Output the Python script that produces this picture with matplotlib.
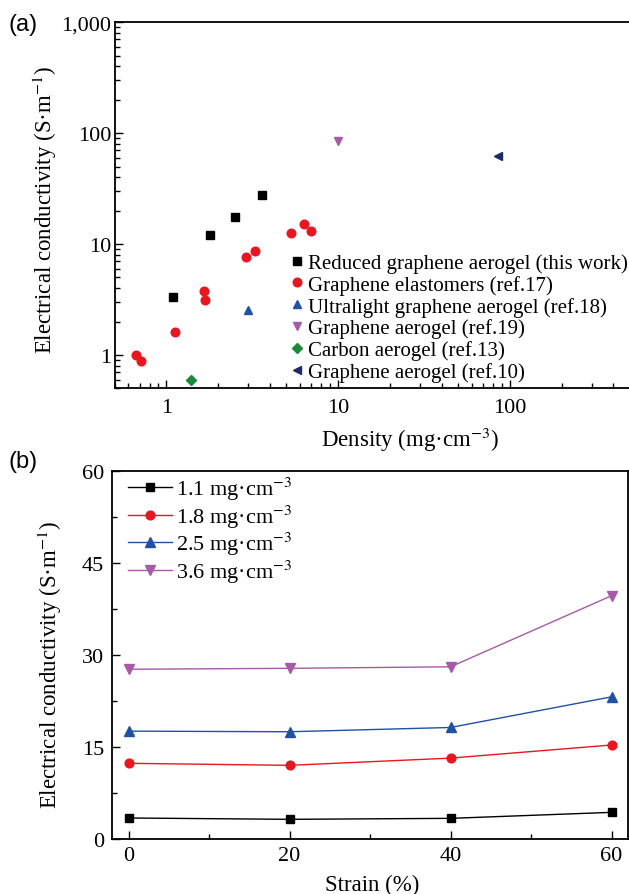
import matplotlib
matplotlib.use("Agg")
import matplotlib.pyplot as plt
from matplotlib.ticker import LogLocator, FuncFormatter, MultipleLocator, NullFormatter

plt.rcParams['font.family'] = ['Liberation Serif', 'DejaVu Serif']
plt.rcParams['mathtext.fontset'] = 'stix'

# ---------------- Panel (a) data ----------------
rga_density = [1.1, 1.8, 2.5, 3.6]
rga_cond = [3.35, 12.1, 17.4, 27.6]

elast_density = [0.67, 0.71, 1.12, 1.67, 1.69, 2.90, 3.28, 5.3, 6.35, 6.95]
elast_cond = [1.0, 0.88, 1.61, 3.8, 3.16, 7.7, 8.6, 12.5, 15.1, 13.2]

ultra_density = [3.0]
ultra_cond = [2.55]

ga19_density = [10.0]
ga19_cond = [85.0]

carbon_density = [1.4]
carbon_cond = [0.6]

ga10_density = [85.0]
ga10_cond = [62.5]

labels_a = ["Reduced graphene aerogel (this work)",
            "Graphene elastomers (ref.17)",
            "Ultralight graphene aerogel (ref.18)",
            "Graphene aerogel (ref.19)",
            "Carbon aerogel (ref.13)",
            "Graphene aerogel (ref.10)"]

# ---------------- Panel (b) data ----------------
strain = [0, 20, 40, 60]
cond_11 = [3.43, 3.21, 3.37, 4.35]
cond_18 = [12.35, 12.02, 13.2, 15.34]
cond_25 = [17.6, 17.5, 18.2, 23.2]
cond_36 = [27.7, 27.85, 28.1, 39.7]
labels_b = ["1.1 mg·cm$^{-3}$", "1.8 mg·cm$^{-3}$", "2.5 mg·cm$^{-3}$", "3.6 mg·cm$^{-3}$"]

BLACK = '#000000'
RED = '#e8161e'
BLUE = '#2151a5'
PURPLE = '#a65aa8'
GREEN = '#1a8a3a'
NAVY = '#1c2a66'

W, H = 629, 895
fig = plt.figure(figsize=(W / 100, H / 100), dpi=100)

def frac(l, t, r, b):
    return [l / W, 1 - b / H, (r - l) / W, (b - t) / H]

LBL = 16.5
TCK = 16

# ---------------- Panel (a) ----------------
ax1 = fig.add_axes(frac(114.5, 23.3, 630.0, 389.3))
ax1.set_xscale('log')
ax1.set_yscale('log')
ax1.set_xlim(0.5, 500)
ax1.set_ylim(0.5, 1000)

ms = 6.2
h1, = ax1.plot(rga_density, rga_cond, ls='none', marker='s', ms=5.8, color=BLACK, mec=BLACK)
h2, = ax1.plot(elast_density, elast_cond, ls='none', marker='o', ms=ms, color=RED, mec=RED)
h3, = ax1.plot(ultra_density, ultra_cond, ls='none', marker='^', ms=ms, color=BLUE, mec=BLUE)
h4, = ax1.plot(ga19_density, ga19_cond, ls='none', marker='v', ms=ms, color=PURPLE, mec=PURPLE)
h5, = ax1.plot(carbon_density, carbon_cond, ls='none', marker='D', ms=5.0, color=GREEN, mec=GREEN)
h6, = ax1.plot(ga10_density, ga10_cond, ls='none', marker='<', ms=ms, color=NAVY, mec=NAVY)

ax1.legend([h1, h2, h3, h4, h5, h6], labels_a, loc='upper left',
           bbox_to_anchor=(0.343, 0.369), frameon=False, fontsize=15,
           handlelength=0.55, handletextpad=0.25, labelspacing=0.09,
           borderpad=0, borderaxespad=0)

ax1.xaxis.set_major_locator(LogLocator(base=10, numticks=10))
ax1.xaxis.set_minor_locator(LogLocator(base=10, subs=range(2, 10), numticks=20))
ax1.yaxis.set_major_locator(LogLocator(base=10, numticks=10))
ax1.yaxis.set_minor_locator(LogLocator(base=10, subs=range(2, 10), numticks=20))
ax1.xaxis.set_major_formatter(FuncFormatter(lambda v, p: f"{v:,.0f}"))
ax1.yaxis.set_major_formatter(FuncFormatter(lambda v, p: f"{v:,.0f}"))
ax1.xaxis.set_minor_formatter(NullFormatter())
ax1.yaxis.set_minor_formatter(NullFormatter())

ax1.tick_params(which='both', direction='in', top=False, right=False, labelsize=TCK, width=1.0)
ax1.tick_params(which='major', length=6)
ax1.tick_params(which='minor', length=3.5)
ax1.tick_params(axis='x', which='major', pad=7)
ax1.tick_params(axis='y', which='major', pad=2.5)
for s in ['left', 'bottom', 'top']:
    ax1.spines[s].set_linewidth(1.3)
ax1.spines['right'].set_linewidth(0.8)
ax1.spines['right'].set_color('#dcdcdc')

ax1.set_xlabel("Density (mg·cm$^{-3}$)", fontsize=LBL)
ax1.set_ylabel("Electrical conductivity (S·m$^{-1}$)", fontsize=LBL)
ax1.xaxis.set_label_coords(0.573, -0.10)
ax1.yaxis.set_label_coords(-0.108, 0.49)

fig.text(8 / W, 1 - 25 / H, "(a)", family=['Liberation Sans', 'DejaVu Sans'],
         fontsize=17, va='center', ha='left')

# ---------------- Panel (b) ----------------
ax2 = fig.add_axes(frac(112.4, 472.3, 627.7, 840.0))
ax2.set_xlim(-2, 62)
ax2.set_ylim(0, 60)

lw = 1.0
ax2.plot(strain, cond_11, color=BLACK, lw=lw, marker='s', ms=5.5, label=labels_b[0])
ax2.plot(strain, cond_18, color=RED, lw=lw, marker='o', ms=6.3, label=labels_b[1])
ax2.plot(strain, cond_25, color=BLUE, lw=lw, marker='^', ms=6.5, label=labels_b[2])
ax2.plot(strain, cond_36, color=PURPLE, lw=lw, marker='v', ms=6.5, label=labels_b[3])

ax2.legend(loc='upper left', bbox_to_anchor=(0.03, 0.99), frameon=False, fontsize=16,
           handlelength=2.0, handletextpad=0.15, labelspacing=0.02,
           borderpad=0, borderaxespad=0)

ax2.xaxis.set_major_locator(MultipleLocator(20))
ax2.xaxis.set_minor_locator(MultipleLocator(10))
ax2.yaxis.set_major_locator(MultipleLocator(15))
ax2.yaxis.set_minor_locator(MultipleLocator(7.5))
ax2.tick_params(which='both', direction='in', top=False, right=False, labelsize=TCK, width=1.0)
ax2.tick_params(which='major', length=6)
ax2.tick_params(which='minor', length=3.5)
ax2.tick_params(axis='y', which='major', pad=6)
ax2.tick_params(axis='x', which='major', pad=5)
for s in ax2.spines.values():
    s.set_linewidth(1.3)

ax2.set_xlabel("Strain (%)", fontsize=LBL)
ax2.set_ylabel("Electrical conductivity (S·m$^{-1}$)", fontsize=LBL)
ax2.xaxis.set_label_coords(0.505, -0.095)
ax2.yaxis.set_label_coords(-0.094, 0.476)

fig.text(8 / W, 1 - 462 / H, "(b)", family=['Liberation Sans', 'DejaVu Sans'],
         fontsize=17, va='center', ha='left')

fig.savefig("out.png", dpi=100)
